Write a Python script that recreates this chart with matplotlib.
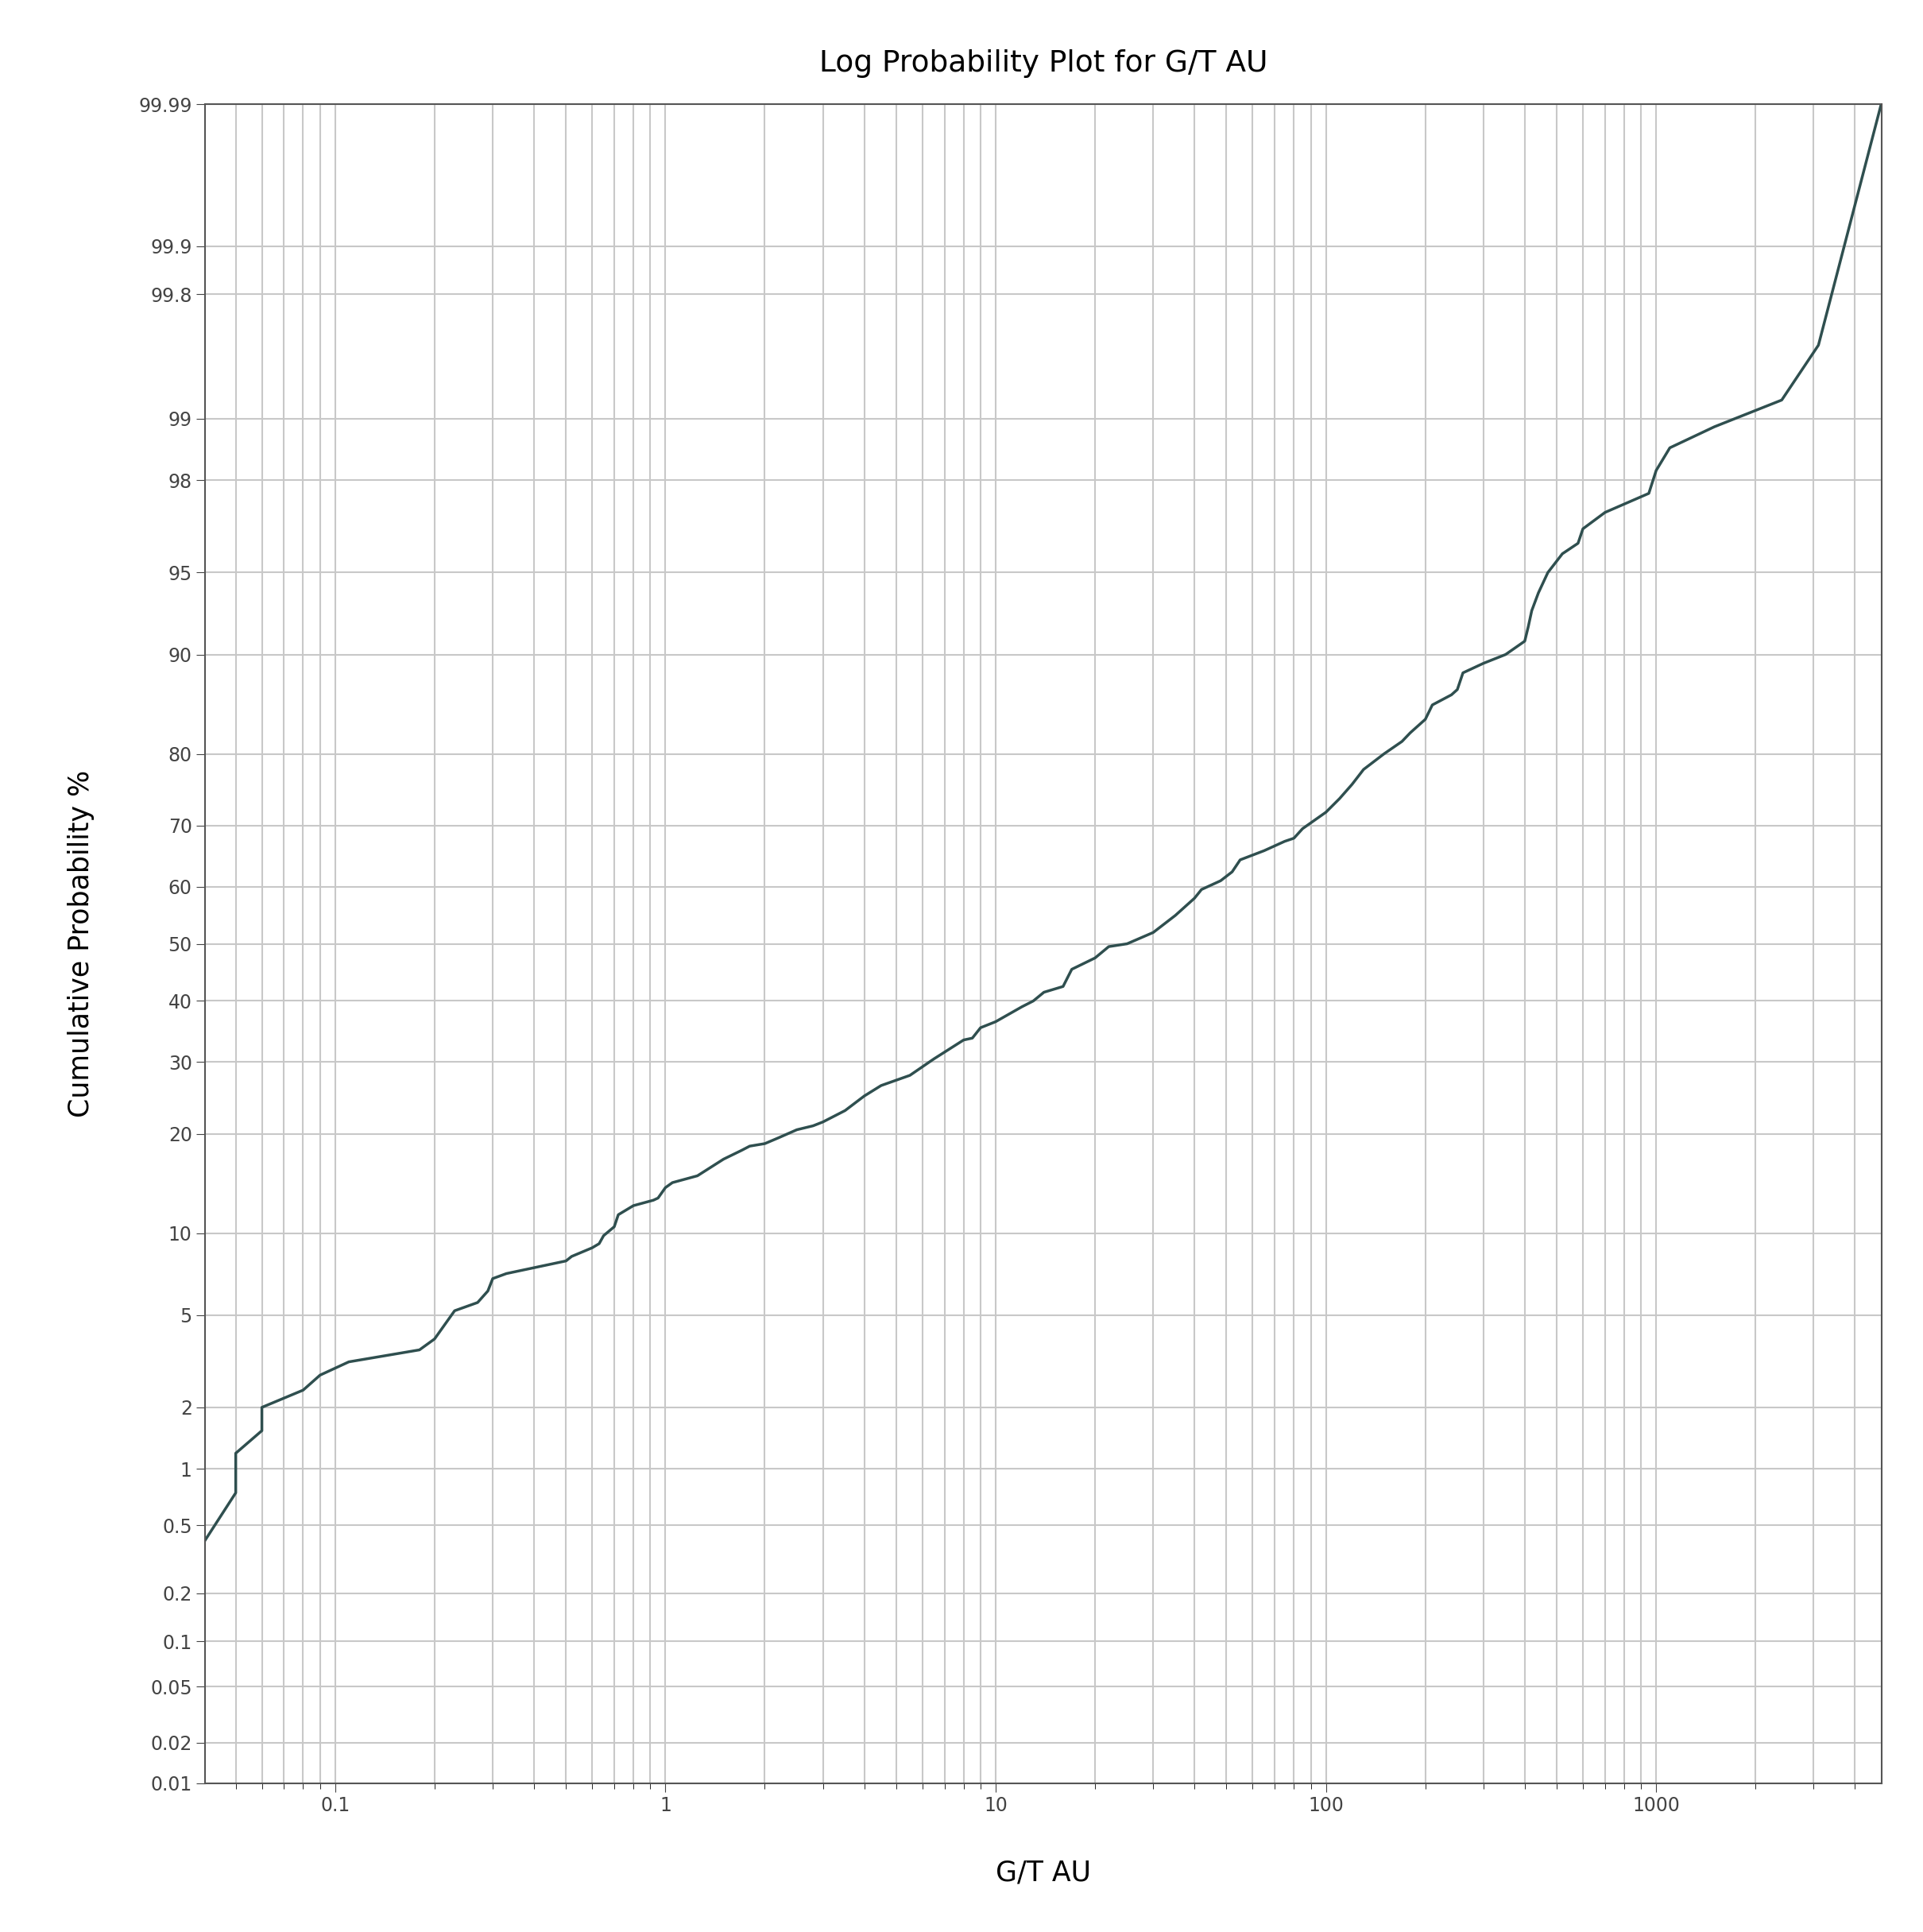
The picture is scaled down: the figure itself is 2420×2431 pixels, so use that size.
import math
import numpy as np
import matplotlib
matplotlib.use("Agg")
import matplotlib.pyplot as plt
from matplotlib.ticker import FixedLocator, FixedFormatter, LogLocator, NullFormatter

# data: grade (g/t Au) and cumulative probability (%)
grade = [0.04, 0.05, 0.05, 0.06, 0.06, 0.08, 0.09, 0.11, 0.18, 0.2, 0.23, 0.27, 0.29, 0.3,
         0.33, 0.5, 0.52, 0.6, 0.63, 0.65, 0.7, 0.72, 0.8, 0.92, 0.95, 1.0, 1.05, 1.25, 1.5,
         1.7, 1.8, 2.0, 2.2, 2.5, 2.8, 3.0, 3.5, 4.0, 4.5, 5.5, 6.5, 8.0, 8.5, 9.0, 10, 12,
         13, 14, 16, 17, 20, 22, 25, 30, 35, 40, 42, 48, 52, 55, 65, 75, 80, 85, 100, 110,
         120, 130, 150, 170, 180, 200, 210, 240, 250, 260, 300, 350, 400, 410, 420, 440,
         470, 520, 580, 600, 700, 950, 1000, 1100, 1500, 2400, 3100, 4800]
cum_prob = [0.4, 0.75, 1.2, 1.55, 2.0, 2.4, 2.8, 3.2, 3.6, 4.0, 5.2, 5.6, 6.2, 6.9,
            7.2, 8.0, 8.3, 8.9, 9.2, 9.8, 10.5, 11.5, 12.3, 12.8, 13.0, 14.0, 14.5, 15.2, 17.0,
            18.0, 18.5, 18.8, 19.5, 20.5, 21.0, 21.5, 23.0, 25.0, 26.5, 28.0, 30.5, 33.5, 33.8,
            35.5, 36.5, 39.0, 40.0, 41.5, 42.5, 45.5, 47.5, 49.5, 50.0, 52.0, 55.0, 58.0, 59.5,
            61.0, 62.5, 64.5, 66.0, 67.5, 68.0, 69.5, 72.0, 74.0, 76.0, 78.0, 80.0, 81.5, 82.5,
            84.0, 85.5, 86.5, 87.0, 88.5, 89.3, 90.0, 91.0, 92.0, 93.0, 94.0, 95.0, 95.8, 96.2,
            96.7, 97.2, 97.7, 98.2, 98.6, 98.9, 99.2, 99.6, 99.99]
prob_ticks = [0.01, 0.02, 0.05, 0.1, 0.2, 0.5, 1, 2, 5, 10, 20, 30, 40, 50, 60, 70, 80,
              90, 95, 98, 99, 99.8, 99.9, 99.99]
prob_labels = ["0.01", "0.02", "0.05", "0.1", "0.2", "0.5", "1", "2", "5", "10", "20", "30",
               "40", "50", "60", "70", "80", "90", "95", "98", "99", "99.8", "99.9", "99.99"]


def _ppf_scalar(p):
    # Acklam's approximation of the inverse normal cdf
    a = [-3.969683028665376e+01, 2.209460984245205e+02, -2.759285104469687e+02,
         1.383577518672690e+02, -3.066479806614716e+01, 2.506628277459239e+00]
    b = [-5.447609879822406e+01, 1.615858368580409e+02, -1.556989798598866e+02,
         6.680131188771972e+01, -1.328068155288572e+01]
    c = [-7.784894002430293e-03, -3.223964580411365e-01, -2.400758277161838e+00,
         -2.549671348283315e+00, 4.374664141464968e+00, 2.938163982698783e+00]
    d = [7.784695709041462e-03, 3.224671290700398e-01, 2.445134137142996e+00,
         3.754408661907416e+00]
    p = min(max(p, 1e-9), 1 - 1e-9)
    if p < 0.02425:
        q = math.sqrt(-2 * math.log(p))
        return (((((c[0]*q+c[1])*q+c[2])*q+c[3])*q+c[4])*q+c[5]) / ((((d[0]*q+d[1])*q+d[2])*q+d[3])*q+1)
    if p > 1 - 0.02425:
        q = math.sqrt(-2 * math.log(1 - p))
        return -(((((c[0]*q+c[1])*q+c[2])*q+c[3])*q+c[4])*q+c[5]) / ((((d[0]*q+d[1])*q+d[2])*q+d[3])*q+1)
    q = p - 0.5
    r = q * q
    return (((((a[0]*r+a[1])*r+a[2])*r+a[3])*r+a[4])*r+a[5])*q / (((((b[0]*r+b[1])*r+b[2])*r+b[3])*r+b[4])*r+1)


def forward(pct):
    pct = np.asarray(pct, dtype=float)
    return np.array([_ppf_scalar(v / 100.0) for v in pct.ravel()]).reshape(pct.shape)


def inverse(z):
    z = np.asarray(z, dtype=float)
    return np.array([50.0 * (1 + math.erf(v / math.sqrt(2))) for v in z.ravel()]).reshape(z.shape)


fig = plt.figure(figsize=(24.2, 24.31), dpi=100)
ax = fig.add_axes([0.1065, 0.077, 0.8722, 0.869])

ax.set_xscale("log")
ax.set_yscale("function", functions=(forward, inverse))
ax.plot(grade, cum_prob, color="#2f4f4f", lw=2.5)

ax.set_xlim(0.0403, 4830)
ax.set_ylim(0.01, 99.99)
ax.yaxis.set_major_locator(FixedLocator(prob_ticks))
ax.yaxis.set_major_formatter(FixedFormatter(prob_labels))
ax.yaxis.set_minor_locator(FixedLocator([]))
ax.xaxis.set_major_locator(LogLocator(base=10))
ax.xaxis.set_minor_locator(LogLocator(base=10, subs=np.arange(2, 10)))
ax.xaxis.set_minor_formatter(NullFormatter())
ax.set_xticks([0.1, 1, 10, 100, 1000])
ax.set_xticklabels(["0.1", "1", "10", "100", "1000"])

ax.grid(True, which="both", color="#c8c8c8", lw=1.5)
ax.set_axisbelow(True)
ax.tick_params(labelsize=17, colors="#444444", length=8)
ax.tick_params(which="minor", length=5)
for s in ax.spines.values():
    s.set_color("#555555")
    s.set_linewidth(1.5)

ax.set_title("Log Probability Plot for G/T AU", fontsize=27, pad=30)
ax.set_xlabel("G/T AU", fontsize=25, labelpad=40)
ax.set_ylabel("Cumulative Probability %", fontsize=25, labelpad=40)

fig.savefig("out.png", dpi=100)
